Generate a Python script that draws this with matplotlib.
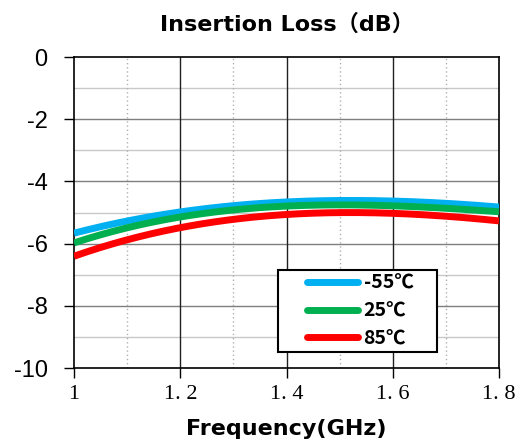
import matplotlib
matplotlib.use("Agg")
import matplotlib.pyplot as plt
from matplotlib.legend_handler import HandlerLine2D
import numpy as np

# data
freq = [1.0, 1.1, 1.2, 1.3, 1.4, 1.5, 1.6, 1.7, 1.8]
loss_m55 = [-5.66, -5.28, -4.98, -4.78, -4.66, -4.60, -4.64, -4.71, -4.82]
loss_25 = [-5.98, -5.50, -5.11, -4.93, -4.82, -4.74, -4.78, -4.86, -4.98]
loss_85 = [-6.40, -5.90, -5.46, -5.22, -5.08, -5.00, -5.02, -5.12, -5.27]

labels = ["-55℃", "25℃", "85℃"]
colors = ["#00b0f0", "#00b050", "#ff0000"]

xticks = [1.0, 1.2, 1.4, 1.6, 1.8]
xtick_labels = ["1", "1. 2", "1. 4", "1. 6", "1. 8"]
yticks = [0, -2, -4, -6, -8, -10]

latin_cjk = ["DejaVu Sans", "Noto Sans CJK SC"]
cjk = ["Noto Sans CJK SC", "DejaVu Sans"]


class PaddedLine(HandlerLine2D):
    # legend line drawn only on the right part of the handle box
    def get_xdata(self, legend, xdescent, ydescent, width, height, fontsize):
        xd = np.array([-xdescent + width * 0.33, -xdescent + width])
        return xd, xd


fig = plt.figure(figsize=(5.18, 4.41), dpi=100)
ax = fig.add_axes([0.1429, 0.1655, 0.8205, 0.7052])

# grid
for y in np.arange(-9, 0, 2):
    ax.axhline(y, color="#c8c8c8", lw=1, zorder=1)
for y in np.arange(-8, 0, 2):
    ax.axhline(y, color="#7f7f7f", lw=1, zorder=1)
for x in [1.1, 1.3, 1.5, 1.7]:
    ax.axvline(x, color="#b0b0b0", lw=1, ls=(0, (1, 2)), zorder=1)
for x in [1.2, 1.4, 1.6]:
    ax.axvline(x, color="#202020", lw=1, zorder=1)

for vals, lab, c in zip([loss_m55, loss_25, loss_85], labels, colors):
    xs = np.linspace(1.0, 1.8, 200)
    coef = np.polyfit(freq, vals, 3)
    ax.plot(xs, np.polyval(coef, xs), color=c, lw=5, label=lab, zorder=3,
            solid_capstyle="butt")

ax.set_xlim(1.0, 1.8)
ax.set_ylim(-10, 0)
ax.set_xticks(xticks)
ax.set_xticklabels(xtick_labels, fontfamily="Liberation Serif", fontsize=16)
ax.set_yticks(yticks)
ax.set_yticklabels([str(v) for v in yticks], fontfamily="Liberation Sans", fontsize=17)
ax.tick_params(axis="both", direction="out", length=7, width=1, color="black")
ax.tick_params(axis="y", pad=12)
ax.tick_params(axis="x", pad=5)
for s in ax.spines.values():
    s.set_color("black")
    s.set_linewidth(1.2)

ax.set_title("Insertion Loss（dB）", fontfamily=latin_cjk, fontweight="bold",
             fontsize=16, pad=19)
ax.set_xlabel("Frequency(GHz)", fontfamily=latin_cjk, fontweight="bold",
              fontsize=16, labelpad=11)

leg = ax.legend(loc="lower left", bbox_to_anchor=(0.48, 0.051, 0.374, 0.27),
                mode="expand", borderaxespad=0, fancybox=False,
                edgecolor="black", framealpha=1, handlelength=3.9,
                handletextpad=0.3, borderpad=0.2, labelspacing=0.45,
                handler_map={plt.Line2D: PaddedLine()},
                prop={"family": cjk, "weight": "bold", "size": 14})
leg.get_frame().set_linewidth(1.5)
for line in leg.get_lines():
    line.set_solid_capstyle("round")

fig.savefig("out.png", dpi=100)
